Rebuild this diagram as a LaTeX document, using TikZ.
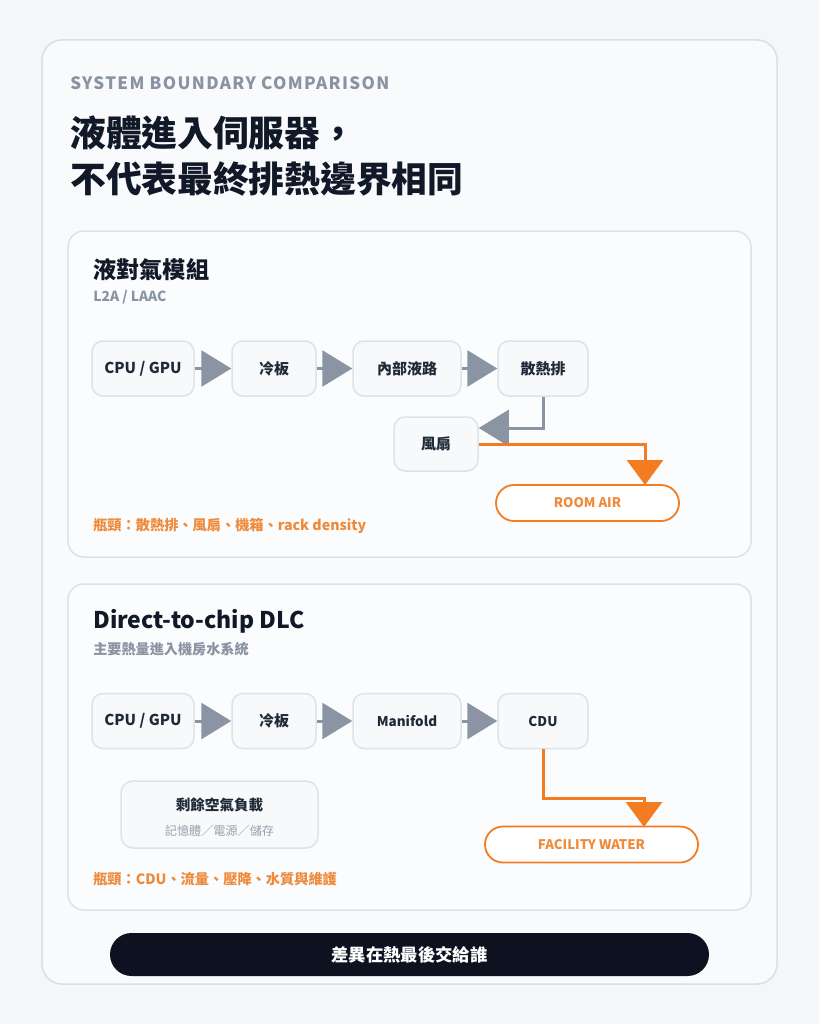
\documentclass[tikz,border=0pt]{standalone}
\usepackage{fontspec}
\setmainfont{Noto Sans CJK TC}
\usetikzlibrary{arrows.meta}
\newdimen\pxu \pxu=0.75pt
\definecolor{bgc}{HTML}{F4F6F9}
\definecolor{cardc}{HTML}{F8FAFC}
\definecolor{cardb}{HTML}{D9DFE5}
\definecolor{panelc}{HTML}{FBFCFD}
\definecolor{panelb}{HTML}{DCE2E7}
\definecolor{boxc}{HTML}{F7F9FA}
\definecolor{boxb}{HTML}{DDE3E8}
\definecolor{ink}{HTML}{111827}
\definecolor{boxink}{HTML}{1F2937}
\definecolor{graytxt}{HTML}{8A93A1}
\definecolor{graysub}{HTML}{9AA2AD}
\definecolor{arrgray}{HTML}{8A94A3}
\definecolor{orgline}{HTML}{F47C20}
\definecolor{orgtxt}{HTML}{EE8A3A}
\definecolor{barc}{HTML}{0D1120}
\tikzset{
  panel/.style={draw=panelb, fill=panelc, line width=1.5\pxu, rounded corners=16\pxu},
  flowbox/.style={draw=boxb, fill=boxc, line width=1.5\pxu, rounded corners=11\pxu,
    minimum height=55\pxu, inner sep=0pt, text=boxink,
    font=\fontsize{11.25pt}{13pt}\selectfont\bfseries},
  smallbox/.style={flowbox, font=\fontsize{10.1pt}{12pt}\selectfont\bfseries},
  pill/.style={draw=orgline, fill=white, line width=1.8\pxu, rounded corners=18\pxu,
    minimum height=36\pxu, inner sep=0pt, text=orgtxt,
    font=\fontsize{9.9pt}{12pt}\selectfont\bfseries},
  grayflow/.style={draw=arrgray, line width=2.25pt,
    -{Triangle[length=22.5pt,width=27pt]}},
  orgflow/.style={draw=orgline, line width=2.25pt,
    -{Triangle[length=18.75pt,width=27pt]}},
  lefttext/.style={anchor=west, inner sep=0pt},
}
\begin{document}
\begin{tikzpicture}[x=0.75pt,y=-0.75pt]
\useasboundingbox (0,0) rectangle (819,1024);
\fill[bgc] (0,0) rectangle (819,1024);
% outer card
\draw[draw=cardb, fill=cardc, line width=1.5\pxu, rounded corners=20\pxu] (42,40) rectangle (777,984);
\node[lefttext, text=graytxt, font=\fontsize{12.75pt}{15pt}\selectfont\bfseries\addfontfeature{LetterSpace=8}] (kicker) at (70,83.5) {SYSTEM BOUNDARY COMPARISON};
\node[lefttext, text=ink, font=\fontsize{26.8pt}{32pt}\selectfont\bfseries] (t1) at (70,132.5) {液體進入伺服器，};
\node[lefttext, text=ink, font=\fontsize{26.8pt}{32pt}\selectfont\bfseries] (t2) at (70,178.5) {不代表最終排熱邊界相同};

% panel 1
\draw[panel] (68,231) rectangle (751,557);
\node[lefttext, text=ink, font=\fontsize{17.4pt}{20pt}\selectfont\bfseries] (p1t) at (93,269.5) {液對氣模組};
\node[lefttext, text=graytxt, font=\fontsize{10.4pt}{12pt}\selectfont\bfseries] (p1s) at (93,297.5) {L2A / LAAC};
\node[flowbox, minimum width=102\pxu] (a1) at (143,368.5) {CPU / GPU};
\node[flowbox, minimum width=84\pxu] (a2) at (274,368.5) {冷板};
\node[flowbox, minimum width=108\pxu] (a3) at (407,368.5) {內部液路};
\node[flowbox, minimum width=90\pxu] (a4) at (543,368.5) {散熱排};
\node[flowbox, minimum width=84\pxu, minimum height=54\pxu] (fan) at (436,444) {風扇};
\node[pill, minimum width=183\pxu] (room) at (587.5,503) {ROOM AIR};
\coordinate (roomin) at (645,485);
\draw[grayflow] (a1) -- (a2);
\draw[grayflow] (a2) -- (a3);
\draw[grayflow] (a3) -- (a4);
\draw[grayflow] (a4.south) |- ([yshift=12pt]fan.east);
\draw[orgflow] (fan.east) -| (roomin);
\node[lefttext, text=orgtxt, font=\fontsize{10.65pt}{13pt}\selectfont\bfseries] (p1b) at (93,525.5) {瓶頸：散熱排、風扇、機箱、rack density};

% panel 2
\draw[panel] (68,584) rectangle (751,910);
\node[lefttext, text=ink, font=\fontsize{17.25pt}{20pt}\selectfont\bfseries] (p2t) at (93,621.5) {Direct-to-chip DLC};
\node[lefttext, text=graytxt, font=\fontsize{10.6pt}{12pt}\selectfont\bfseries] (p2s) at (93,649.5) {主要熱量進入機房水系統};
\node[flowbox, minimum width=102\pxu] (b1) at (143,721) {CPU / GPU};
\node[flowbox, minimum width=84\pxu] (b2) at (274,721) {冷板};
\node[smallbox, minimum width=108\pxu] (b3) at (407,721) {Manifold};
\node[smallbox, minimum width=90\pxu] (b4) at (543,721) {CDU};
\node[draw=boxb, fill=boxc, line width=1.5\pxu, rounded corners=12\pxu, minimum width=197\pxu, minimum height=67\pxu] (rest) at (219.5,814.5) {};
\node[text=boxink, font=\fontsize{10.9pt}{13pt}\selectfont\bfseries, inner sep=0pt] (restt) at (219.5,804.5) {剩餘空氣負載};
\node[text=graysub, font=\fontsize{9.1pt}{12pt}\selectfont, inner sep=0pt] (rests) at (219.5,831) {記憶體／電源／儲存};
\node[pill, minimum width=213\pxu] (fw) at (591.5,844.5) {FACILITY WATER};
\coordinate (fwin) at (644,827);
\draw[grayflow] (b1) -- (b2);
\draw[grayflow] (b2) -- (b3);
\draw[grayflow] (b3) -- (b4);
\draw[orgflow] (b4.south) -- ++(0,49) -| (fwin);
\node[lefttext, text=orgtxt, font=\fontsize{10.65pt}{13pt}\selectfont\bfseries] (p2b) at (93,879.5) {瓶頸：CDU、流量、壓降、水質與維護};

% bottom bar
\node[fill=barc, rounded corners=21.5\pxu, minimum width=599\pxu, minimum height=43\pxu, inner sep=0pt, text=white, font=\fontsize{13pt}{15pt}\selectfont\bfseries] (bar) at (409.5,954.5) {差異在熱最後交給誰};
\end{tikzpicture}
\end{document}
